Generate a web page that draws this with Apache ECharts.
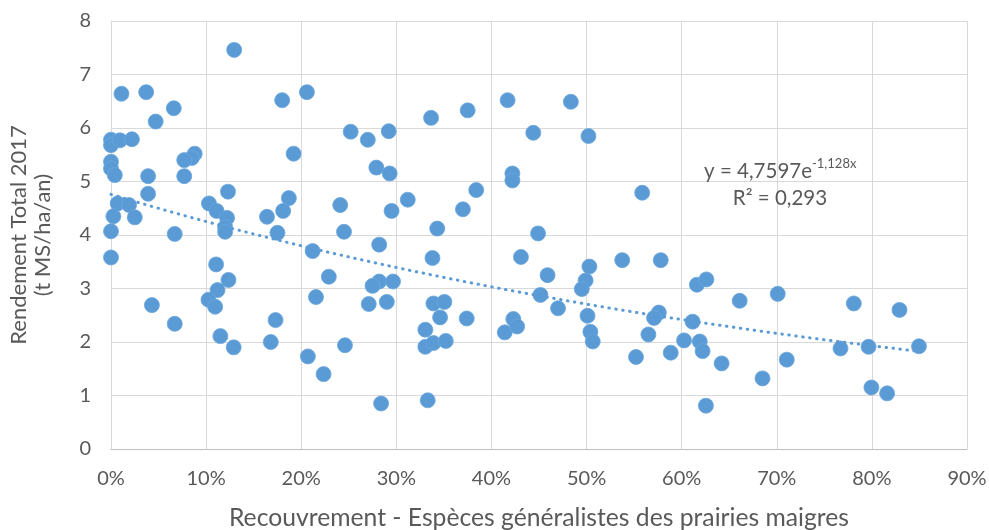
<!DOCTYPE html>
<html>
<head>
<meta charset="utf-8">
<script src="https://cdn.jsdelivr.net/npm/echarts@6/dist/echarts.min.js"></script>
<style>html,body{margin:0;padding:0;background:#fff}#c{width:989px;height:530px}</style>
</head>
<body>
<div id="c"></div>
<script>
// Recouvrement (%) and Rendement (t MS/ha/an)
const xPercent = [12.95,1.1,3.7,6.6,4.7,18.0,20.6,0,0,0.95,2.2,19.2,8.8,8.5,7.7,0,0,0.4,3.9,7.7,12.3,3.9,18.7,18.1,10.3,11.1,12.2,0.7,1.9,0.25,2.5,16.4,12.0,0,6.7,17.5,12.0,0,11.05,12.35,11.2,10.25,10.95,4.3,6.7,17.3,11.5,12.9,16.8,20.7,25.2,27.0,29.2,33.65,37.5,41.7,27.9,29.3,42.2,42.2,24.1,31.2,38.4,37.0,29.5,24.5,34.3,28.2,21.2,33.8,22.9,28.2,27.5,29.65,21.55,27.1,29.0,33.9,35.05,34.6,37.4,33.05,33.05,33.9,35.2,24.6,22.35,28.4,33.3,41.4,42.3,42.7,43.1,48.35,44.4,50.2,55.85,44.9,45.9,50.3,53.75,57.8,49.9,49.5,45.15,47.0,50.1,50.4,50.65,61.6,62.6,57.6,57.1,61.15,56.5,60.25,61.9,62.2,58.85,55.2,64.2,62.55,66.1,70.1,78.1,82.9,71.05,68.5,76.7,79.65,84.95,79.95,81.6];
const yValues = [7.46,6.64,6.67,6.37,6.12,6.52,6.67,5.78,5.68,5.77,5.79,5.52,5.52,5.44,5.40,5.37,5.24,5.12,5.10,5.10,4.81,4.77,4.69,4.45,4.59,4.45,4.32,4.59,4.56,4.35,4.33,4.34,4.15,4.07,4.02,4.04,4.06,3.58,3.45,3.16,2.97,2.79,2.66,2.69,2.34,2.41,2.11,1.90,2.00,1.73,5.93,5.78,5.94,6.19,6.33,6.52,5.26,5.15,5.15,5.02,4.56,4.66,4.84,4.48,4.45,4.06,4.12,3.82,3.70,3.57,3.22,3.13,3.05,3.13,2.84,2.71,2.75,2.72,2.75,2.46,2.44,2.23,1.91,1.98,2.02,1.94,1.40,0.85,0.91,2.18,2.43,2.29,3.59,6.49,5.91,5.85,4.79,4.03,3.25,3.41,3.53,3.53,3.15,2.99,2.88,2.63,2.49,2.19,2.01,3.07,3.17,2.55,2.45,2.38,2.14,2.03,2.01,1.83,1.80,1.72,1.60,0.81,2.77,2.90,2.72,2.60,1.67,1.32,1.88,1.91,1.92,1.15,1.04];
// Exponential trend shown on the chart: y = 4,7597 e^(-1,128x)
const trendCoef = [4.7597, -1.128];
const trendLabel = ['y = 4,7597e', '-1,128x', 'R² = 0,293'];
const xTicks = [0,10,20,30,40,50,60,70,80,90];
const yTicks = [0,1,2,3,4,5,6,7,8];

const points = xPercent.map((x, i) => [x / 100, yValues[i]]);
const xMax = Math.max(...xPercent) / 100;
const trend = [];
for (let i = 0; i <= 100; i++) {
  const x = xMax * i / 100;
  trend.push([x, trendCoef[0] * Math.exp(trendCoef[1] * x)]);
}

const font = 'Lato, "Open Sans", sans-serif';
const chart = echarts.init(document.getElementById('c'));
chart.setOption({
  animation: false,
  grid: { left: 111, right: 22, top: 21, bottom: 81, containLabel: false, outerBoundsMode: 'none' },
  xAxis: {
    type: 'value', min: 0, max: xTicks[xTicks.length-1] / 100, interval: 0.1,
    name: 'Recouvrement - Espèces généralistes des prairies maigres',
    nameLocation: 'middle', nameGap: 57,
    nameTextStyle: { fontFamily: font, fontSize: 24.7, color: '#595959' },
    axisLine: { lineStyle: { color: '#bfbfbf', width: 1 } },
    axisTick: { show: false },
    splitLine: { lineStyle: { color: '#d9d9d9', width: 1 } },
    axisLabel: { fontFamily: font, fontSize: 20, color: '#595959', margin: 20,
      formatter: v => Math.round(v * 100) + '%' }
  },
  yAxis: {
    type: 'value', min: yTicks[0], max: yTicks[yTicks.length-1], interval: 1,
    name: 'Rendement Total 2017\n(t MS/ha/an)',
    nameLocation: 'middle', nameGap: 56,
    nameTextStyle: { fontFamily: font, fontSize: 22, color: '#595959', lineHeight: 24 },
    axisLine: { show: true, lineStyle: { color: '#d9d9d9', width: 1 } },
    axisTick: { show: false },
    splitLine: { lineStyle: { color: '#d9d9d9', width: 1 } },
    axisLabel: { fontFamily: font, fontSize: 20, color: '#595959', margin: 20 }
  },
  series: [
    {
      type: 'scatter', data: points, symbolSize: 15,
      itemStyle: { color: '#5b9bd5', borderColor: '#6aa6dc', borderWidth: 0.8, opacity: 1 },
      z: 3
    },
    {
      type: 'line', data: trend, showSymbol: false, smooth: false,
      lineStyle: { color: '#5b9bd5', width: 3, type: [0.5, 6.5], cap: 'round' },
      z: 4
    }
  ],
  graphic: [
    { type: 'text', x: 812, y: 171, z: 10,
      style: { text: trendLabel[0], fontFamily: font, fontSize: 20.5, fill: '#595959', align: 'right', verticalAlign: 'middle' } },
    { type: 'text', x: 812, y: 164, z: 10,
      style: { text: trendLabel[1], fontFamily: font, fontSize: 13, fill: '#595959', align: 'left', verticalAlign: 'middle' } },
    { type: 'text', x: 780, y: 198, z: 10,
      style: { text: trendLabel[2], fontFamily: font, fontSize: 20.5, fill: '#595959', align: 'center', verticalAlign: 'middle' } }
  ]
});
</script>
</body>
</html>
